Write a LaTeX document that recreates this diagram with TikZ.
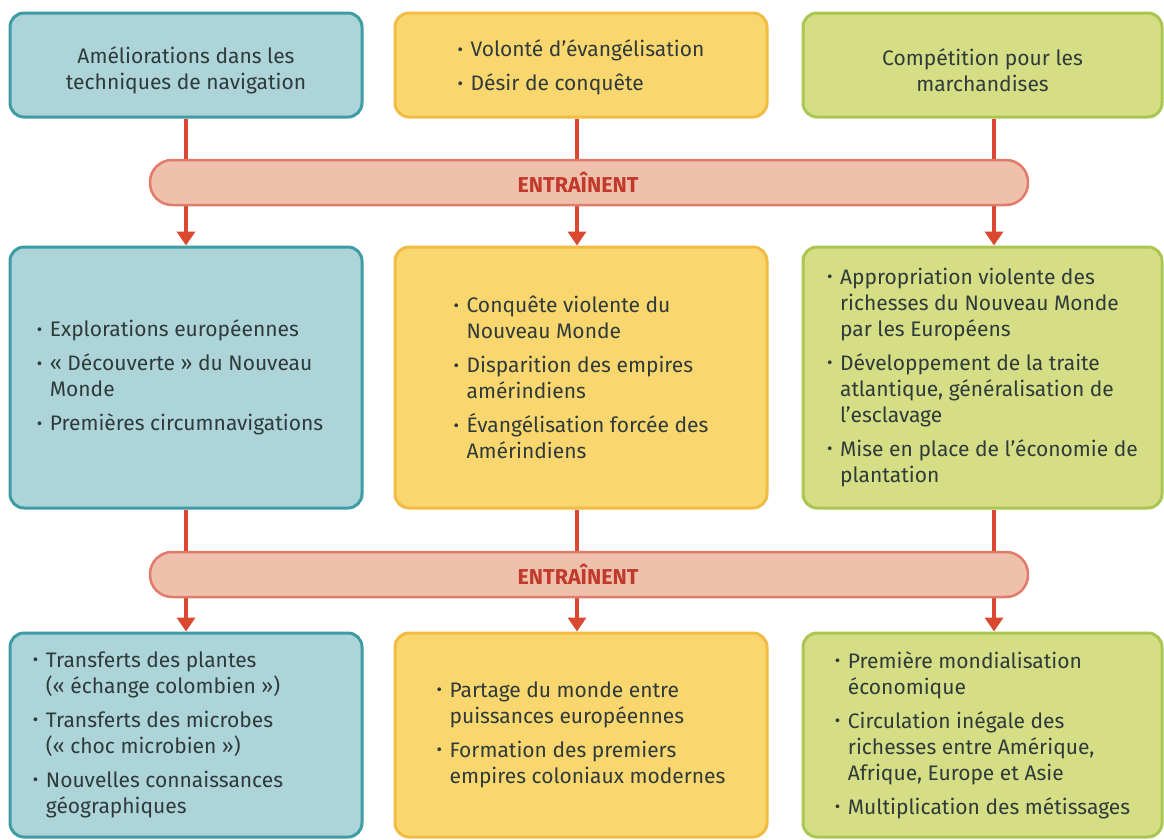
\documentclass[tikz,border=0pt]{standalone}
\usepackage{fontspec}
\setmainfont{Fira Sans}
\usetikzlibrary{arrows.meta}
\definecolor{bluefill}{HTML}{ADD4D9}
\definecolor{blueline}{HTML}{3E9DA4}
\definecolor{yelfill}{HTML}{F9D76E}
\definecolor{yelline}{HTML}{F0BC46}
\definecolor{grnfill}{HTML}{D5DE85}
\definecolor{grnline}{HTML}{AAC650}
\definecolor{barfill}{HTML}{EFC0AB}
\definecolor{barline}{HTML}{E27B6B}
\definecolor{arrred}{HTML}{D9482F}
\definecolor{labred}{HTML}{C0392B}
\definecolor{txt}{HTML}{2F3A3A}
\newcommand{\bul}{\makebox[13pt][l]{\raisebox{.15ex}{\scalebox{.8}{\textbullet}}}}
\newcommand{\ind}{\hspace*{13pt}}
\newcommand{\pad}[1]{\rule{#1}{0pt}}
\newcommand{\lift}[1][28pt]{\rule{0pt}{#1}}

\begin{document}
\begin{tikzpicture}[x=1pt,y=1pt,
    box/.style={rectangle,rounded corners=14pt,line width=3pt,text=txt,
      font=\fontsize{21}{26}\selectfont,inner sep=0pt},
    bluebox/.style={box,draw=blueline,fill=bluefill},
    yelbox/.style={box,draw=yelline,fill=yelfill},
    grnbox/.style={box,draw=grnline,fill=grnfill},
    bar/.style={rectangle,rounded corners=22pt,line width=2.5pt,draw=barline,fill=barfill,
      minimum width=878pt,minimum height=45pt,text=labred,font=\fontsize{21.5}{24}\selectfont\bfseries},
    arr/.style={draw=arrred,line width=3.5pt,-{Triangle[width=18pt,length=14pt]}}]
    \useasboundingbox (0,0) rectangle (1164,-839);
    % top row
    \node [bluebox,minimum width=352pt,minimum height=104pt,align=center] (t1) at (186,-65) {\lift Améliorations dans les\\techniques de navigation};
    \node [yelbox,minimum width=372pt,minimum height=104pt,align=left] (t2) at (581,-65) {\lift[22pt]\bul Volonté d’évangélisation\\[8pt]\bul Désir de conquête};
    \node [grnbox,minimum width=359pt,minimum height=104pt,align=center] (t3) at (982.5,-65) {\lift Compétition pour les\\marchandises};
    % middle row
    \node [bluebox,minimum width=352pt,minimum height=261pt,align=left] (m1) at (186,-377.5) {\bul Explorations européennes\\[8pt]\bul «~Découverte~» du Nouveau\\\ind Monde\\[8pt]\bul Premières circumnavigations\pad{12pt}};
    \node [yelbox,minimum width=372pt,minimum height=261pt,align=left] (m2) at (581,-377.5) {\bul Conquête violente du\\\ind Nouveau Monde\\[8pt]\bul Disparition des empires\\\ind amérindiens\\[8pt]\bul Évangélisation forcée des\\\ind Amérindiens};
    \node [grnbox,minimum width=359pt,minimum height=261pt,align=left] (m3) at (982.5,-377.5) {\bul Appropriation violente des\\\ind richesses du Nouveau Monde\\\ind par les Européens\\[8pt]\bul Développement de la traite\\\ind atlantique, généralisation de\\\ind l’esclavage\\[8pt]\bul Mise en place de l’économie de\\\ind plantation};
    % bottom row
    \node [bluebox,minimum width=352pt,minimum height=204pt,align=left] (b1) at (186,-735) {\bul Transferts des plantes\\\ind («~échange colombien~»)\\[8pt]\bul Transferts des microbes\\\ind («~choc microbien~»)\\[8pt]\bul Nouvelles connaissances\pad{56pt}\\\ind géographiques};
    \node [yelbox,minimum width=372pt,minimum height=204pt,align=left] (b2) at (581,-735) {\bul Partage du monde entre\\\ind puissances européennes\\[8pt]\bul Formation des premiers\\\ind empires coloniaux modernes};
    \node [grnbox,minimum width=359pt,minimum height=204pt,align=left] (b3) at (982.5,-735) {\bul Première mondialisation\\\ind économique\\[8pt]\bul Circulation inégale des\\\ind richesses entre Amérique,\\\ind Afrique, Europe et Asie\\[8pt]\bul Multiplication des métissages};
    % connectors
    \draw [arr] (t1) to (m1);
    \draw [arr] ([xshift=-4pt]t2.south) to ([xshift=-4pt]m2.north);
    \draw [arr] ([xshift=11.5pt]t3.south) to ([xshift=11.5pt]m3.north);
    \draw [arr] (m1) to (b1);
    \draw [arr] ([xshift=-4pt]m2.south) to ([xshift=-4pt]b2.north);
    \draw [arr] ([xshift=11.5pt]m3.south) to ([xshift=11.5pt]b3.north);
    % bars
    \node [bar] (e1) at (589,-182.5) {ENTRAÎNENT\pad{22pt}};
    \node [bar] (e2) at (589,-574.5) {ENTRAÎNENT\pad{22pt}};
  \end{tikzpicture}
\end{document}
